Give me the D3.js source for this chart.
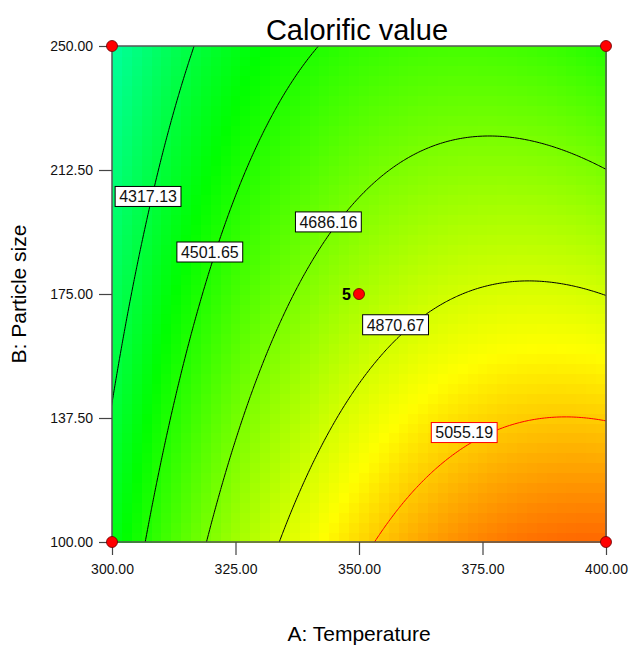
<!DOCTYPE html>
<html>
<head>
<meta charset="utf-8">
<script src="https://cdn.jsdelivr.net/npm/d3@7"></script>
<style>
  body { margin: 0; background: #fff; }
  text { font-family: Arial, "Liberation Sans", sans-serif; }
</style>
</head>
<body>
<script>
// Chart data
const aTicks = [300, 325, 350, 375, 400];
const bTicks = [100, 137.5, 175, 212.5, 250];

// quadratic model in coded units: 1, A, B, AB, A^2, B^2
const termNames = ["Intercept", "A", "B", "AB", "A^2", "B^2"];
const coefficients = [4781.5, 304, -245.75, -118, -217, 2.25];

const contourLevels = [4317.13, 4501.65, 4686.16, 4870.67, 5055.19];
const labelA = [307.3, 319.8, 343.8, 357.4, 371.3];
const labelB = [204.5, 187.7, 196.8, 165.7, 133.1];

const designA = [300, 300, 400, 400, 350];
const designB = [100, 250, 100, 250, 175];
const designRuns = [1, 1, 1, 1, 5];

const colorValues = [3450, 3950, 4435, 4960, 5420];
const colorRange = ["#0000ff", "#00ffff", "#00ff00", "#ffff00", "#ff0000"];

// Set dimensions
const width = 629, height = 648;
const plot = { left: 112, right: 606, top: 46, bottom: 542 };

const svg = d3.select("body").append("svg")
    .attr("width", width)
    .attr("height", height);

const x = d3.scaleLinear().domain([300, 400]).range([plot.left, plot.right]);
const y = d3.scaleLinear().domain([100, 250]).range([plot.bottom, plot.top]);
const color = d3.scaleLinear().domain(colorValues).range(colorRange).clamp(true);

function predict(A, B) {
    const a = (A - 350) / 50, b = (B - 175) / 75;
    const c = coefficients;
    return c[0] + c[1] * a + c[2] * b + c[3] * a * b + c[4] * a * a + c[5] * b * b;
}

// Colour cells
const n = 50;
const dA = 100 / n, dB = 150 / n;
const cells = [];
for (let j = 0; j < n; j++) {
    for (let i = 0; i < n; i++) {
        const A0 = 300 + i * dA, B0 = 100 + j * dB;
        cells.push({ A0, B0, v: predict(A0 + dA / 2, B0 + dB / 2) });
    }
}

svg.append("g").selectAll("rect")
    .data(cells)
    .enter().append("rect")
    .attr("x", d => x(d.A0))
    .attr("y", d => y(d.B0 + dB))
    .attr("width", d => x(d.A0 + dA) - x(d.A0) + 0.6)
    .attr("height", d => y(d.B0) - y(d.B0 + dB) + 0.6)
    .attr("fill", d => color(d.v))
    .attr("shape-rendering", "crispEdges");

// Contour lines (grid padded past the edges, then clipped)
svg.append("clipPath").attr("id", "plotClip")
    .append("rect")
    .attr("x", plot.left).attr("y", plot.top)
    .attr("width", plot.right - plot.left).attr("height", plot.bottom - plot.top);

const pad = 4, stepA = 0.5, stepB = 0.75;
const nx = 201 + 2 * pad, ny = 201 + 2 * pad;
const grid = new Array(nx * ny);
for (let j = 0; j < ny; j++) {
    for (let i = 0; i < nx; i++) {
        grid[j * nx + i] = predict(300 + (i - pad) * stepA, 100 + (j - pad) * stepB);
    }
}

const contours = d3.contours().size([nx, ny]).thresholds(contourLevels)(grid);

const proj = d3.geoTransform({
    point: function(px, py) {
        this.stream.point(x(300 + (px - 0.5 - pad) * stepA), y(100 + (py - 0.5 - pad) * stepB));
    }
});
const path = d3.geoPath(proj);

svg.append("g")
    .attr("clip-path", "url(#plotClip)")
    .selectAll("path")
    .data(contours)
    .enter().append("path")
    .attr("d", path)
    .attr("fill", "none")
    .attr("stroke", (d, i) => i === contourLevels.length - 1 ? "#ff0000" : "#000")
    .attr("stroke-width", 1);

// Frame
svg.append("rect")
    .attr("x", plot.left).attr("y", plot.top)
    .attr("width", plot.right - plot.left).attr("height", plot.bottom - plot.top)
    .attr("fill", "none")
    .attr("stroke", "#555")
    .attr("stroke-width", 1.5);

// Axes
const xAxis = svg.append("g")
    .attr("transform", `translate(0,${plot.bottom})`)
    .call(d3.axisBottom(x).tickValues(aTicks).tickFormat(d3.format(".2f")).tickSize(13).tickPadding(9));
const yAxis = svg.append("g")
    .attr("transform", `translate(${plot.left},0)`)
    .call(d3.axisLeft(y).tickValues(bTicks).tickFormat(d3.format(".2f")).tickSize(13).tickPadding(6));

[xAxis, yAxis].forEach(g => {
    g.select(".domain").remove();
    g.selectAll(".tick line").attr("stroke", "#444").attr("stroke-width", 1.2);
    g.selectAll(".tick text")
        .attr("fill", "#111")
        .style("font-size", "14px")
        .style("font-family", "Arial, 'Liberation Sans', sans-serif");
});

// Contour labels
const labels = svg.append("g");
contourLevels.forEach((lv, i) => {
    const g = labels.append("g")
        .attr("transform", `translate(${x(labelA[i])},${y(labelB[i])})`);
    const rect = g.append("rect");
    const t = g.append("text")
        .attr("text-anchor", "middle")
        .attr("dy", "0.36em")
        .style("font-size", "16px")
        .attr("fill", "#111")
        .text(lv.toFixed(2));
    const w = t.node().getComputedTextLength() + 8;
    rect.attr("x", -w / 2).attr("y", -10)
        .attr("width", w).attr("height", 20)
        .attr("fill", "#fff")
        .attr("stroke", i === contourLevels.length - 1 ? "#ff0000" : "#000")
        .attr("stroke-width", 1);
});

// Design points
designA.forEach((A, i) => {
    svg.append("circle")
        .attr("cx", x(A)).attr("cy", y(designB[i]))
        .attr("r", 5.5)
        .attr("fill", "#ff0000")
        .attr("stroke", "#600")
        .attr("stroke-width", 0.8);
    if (designRuns[i] > 1) {
        svg.append("text")
            .attr("x", x(A) - 8).attr("y", y(designB[i]))
            .attr("dy", "0.36em")
            .attr("text-anchor", "end")
            .style("font-size", "16px")
            .style("font-weight", "bold")
            .text(designRuns[i]);
    }
});

// Titles
svg.append("text")
    .attr("x", (plot.left + plot.right) / 2 - 2).attr("y", 40)
    .attr("text-anchor", "middle")
    .style("font-size", "29px")
    .text("Calorific value");

svg.append("text")
    .attr("x", (plot.left + plot.right) / 2).attr("y", 641)
    .attr("text-anchor", "middle")
    .style("font-size", "21px")
    .text("A: Temperature");

svg.append("text")
    .attr("transform", `translate(26,${(plot.top + plot.bottom) / 2}) rotate(-90)`)
    .attr("text-anchor", "middle")
    .style("font-size", "21px")
    .text("B: Particle size");
</script>
</body>
</html>
